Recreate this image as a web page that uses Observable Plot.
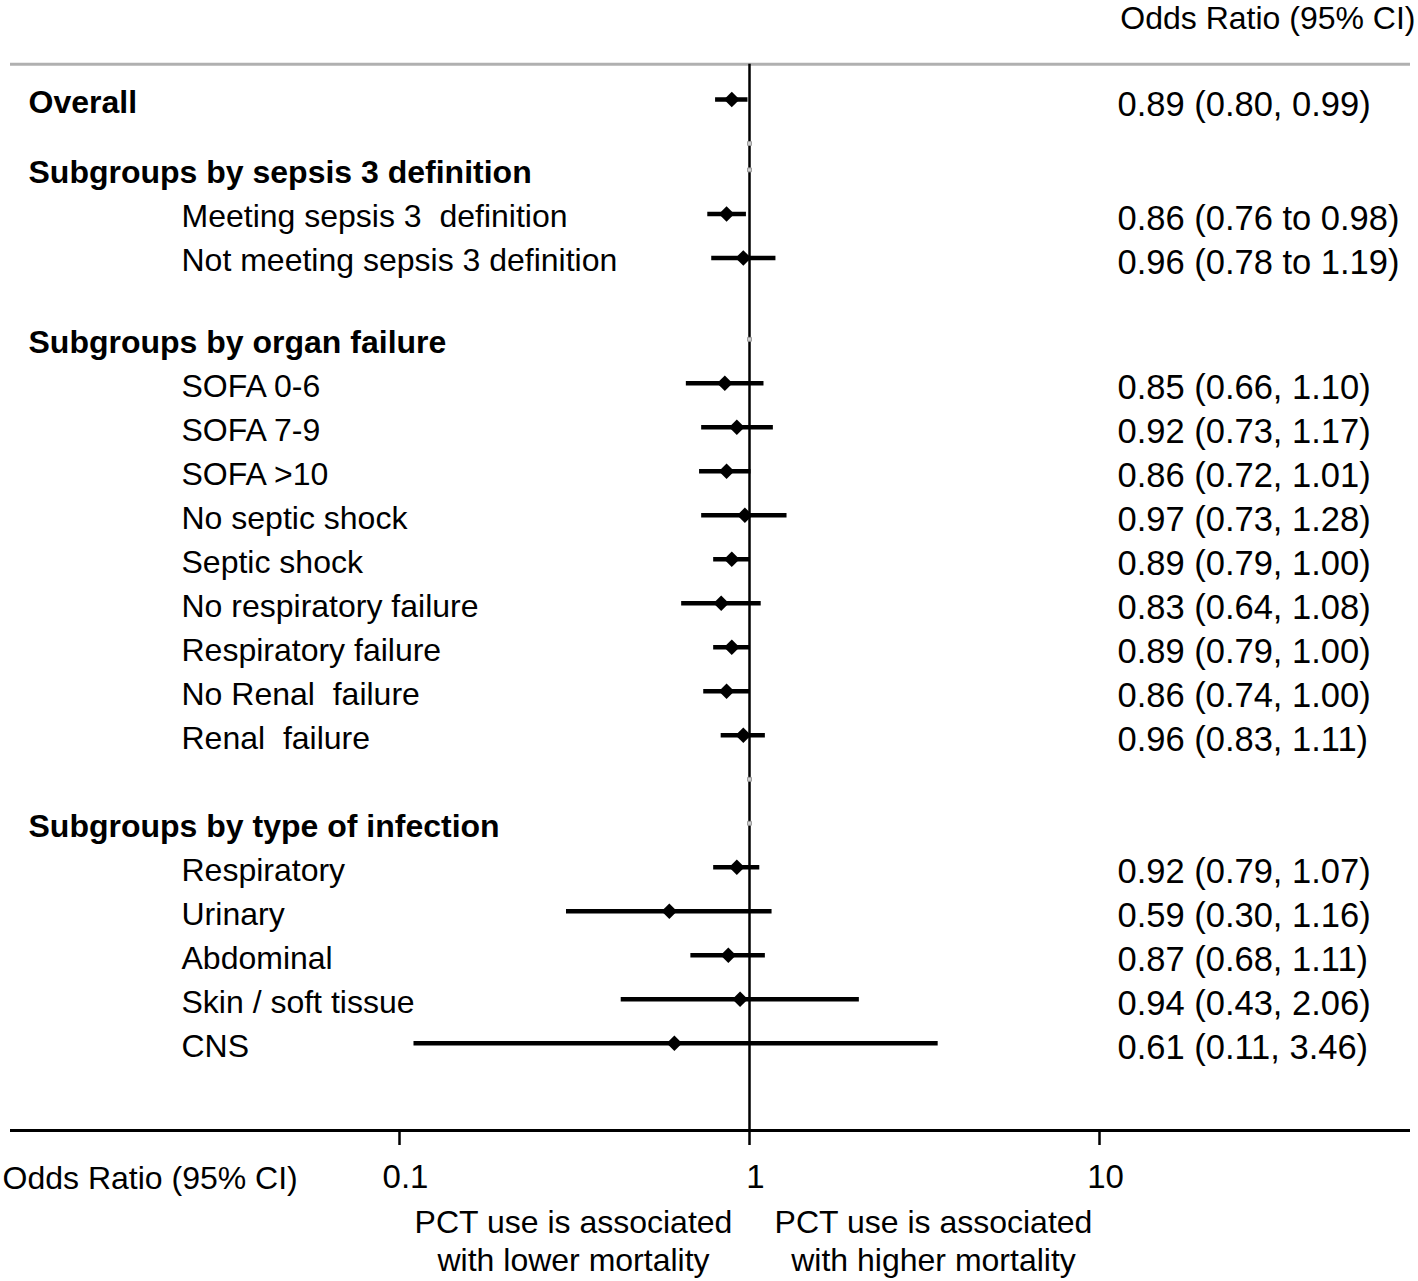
<!DOCTYPE html>
<html><head><meta charset="utf-8">
<script src="https://cdn.jsdelivr.net/npm/d3@7"></script>
<script src="https://cdn.jsdelivr.net/npm/@observablehq/plot@0.6"></script>
<style>html,body{margin:0;padding:0;background:#fff}svg{display:block}</style>
</head><body><div id="chart"></div>
<script>
// ---- data ----
const rowLabels = [
  "Overall", "",
  "Subgroups by sepsis 3 definition", "Meeting sepsis 3  definition", "Not meeting sepsis 3 definition",
  "Subgroups by organ failure", "SOFA 0-6", "SOFA 7-9", "SOFA >10", "No septic shock", "Septic shock",
  "No respiratory failure", "Respiratory failure", "No Renal  failure", "Renal  failure", "",
  "Subgroups by type of infection", "Respiratory", "Urinary", "Abdominal", "Skin / soft tissue", "CNS"
];
const rowKinds = [
  "total", "spacer",
  "header", "item", "item",
  "header", "item", "item", "item", "item", "item", "item", "item", "item", "item", "spacer",
  "header", "item", "item", "item", "item", "item"
];
const oddsRatio = [0.89, null, null, 0.86, 0.96, null, 0.85, 0.92, 0.86, 0.97, 0.89, 0.83, 0.89, 0.86, 0.96, null, null, 0.92, 0.59, 0.87, 0.94, 0.61];
const ciLow     = [0.80, null, null, 0.76, 0.78, null, 0.66, 0.73, 0.72, 0.73, 0.79, 0.64, 0.79, 0.74, 0.83, null, null, 0.79, 0.30, 0.68, 0.43, 0.11];
const ciHigh    = [0.99, null, null, 0.98, 1.19, null, 1.10, 1.17, 1.01, 1.28, 1.00, 1.08, 1.00, 1.00, 1.11, null, null, 1.07, 1.16, 1.11, 2.06, 3.46];
const ciJoiner  = [", ", null, null, " to ", " to ", null, ", ", ", ", ", ", ", ", ", ", ", ", ", ", ", ", ", ", null, null, ", ", ", ", ", ", ", ", ", "];
const xTicks = [0.1, 1, 10];
const axisTitle = "Odds Ratio (95% CI)";
const lowerNote = "PCT use is associated\nwith lower mortality";
const higherNote = "PCT use is associated\nwith higher mortality";

// ---- layout (row units) ----
const extraStep = {2: 0.6, 5: 1.85};
let pos = 0;
const rows = rowLabels.map((label, i) => {
  if (i > 0) pos += (extraStep[i] ?? 1);
  return {label, kind: rowKinds[i], or: oddsRatio[i], lo: ciLow[i], hi: ciHigh[i], joiner: ciJoiner[i], pos};
});
const items = rows.filter(d => d.or != null);
const markers = rows.filter(d => d.kind === "header" || d.kind === "spacer");
const TOP_RULE = -0.8, AXIS_RULE = 23.43;
const f2 = d => d.toFixed(2);

const chart = Plot.plot({
  width: 1418, height: 1281,
  marginLeft: 10, marginRight: 8, marginTop: 64, marginBottom: 151,
  style: {fontFamily: "'Liberation Sans', Arial, sans-serif", fontSize: "32px", color: "#000", background: "#fff"},
  x: {type: "log", domain: [0.1, 10], range: [399, 1099]},
  y: {domain: [0, 1], range: [99, 143], axis: null},
  marks: [
    Plot.ruleY([TOP_RULE], {stroke: "#b0b0b0", strokeWidth: 3}),
    Plot.ruleY([AXIS_RULE], {stroke: "#000", strokeWidth: 3}),
    Plot.ruleX([1], {y1: TOP_RULE, y2: AXIS_RULE, stroke: "#000", strokeWidth: 2.5}),
    Plot.dot(markers, {x: () => 1, y: "pos", symbol: "square", r: 2.2, fill: "#cfcfcf", stroke: "#9a9a9a", strokeWidth: 1}),
    Plot.ruleY(items, {y: "pos", x1: "lo", x2: "hi", stroke: "#000", strokeWidth: 4.5}),
    Plot.dot(items, {x: "or", y: "pos", symbol: "diamond2", r: 7, fill: "#000", stroke: null}),
    Plot.text(rows.filter(d => d.kind !== "item" && d.label), {
      y: "pos", text: "label", frameAnchor: "left", textAnchor: "start", dx: 18, dy: 3, fontWeight: "bold"
    }),
    Plot.text(rows.filter(d => d.kind === "item"), {
      y: "pos", text: "label", frameAnchor: "left", textAnchor: "start", dx: 171, dy: 3
    }),
    Plot.text(items, {
      y: "pos", text: d => `${f2(d.or)} (${f2(d.lo)}${d.joiner}${f2(d.hi)})`,
      frameAnchor: "right", textAnchor: "start", dx: -293, dy: 5, fontSize: 34.5
    }),
    Plot.axisX({ticks: xTicks, tickFormat: null, tickSize: 15, strokeWidth: 2.5, label: null, text: null}),
    Plot.text(xTicks, {x: d => d, text: d => String(d), frameAnchor: "bottom", dy: 57, dx: 6, fontSize: 33}),
    Plot.text([axisTitle], {frameAnchor: "top-right", textAnchor: "end", dx: 5, dy: -58}),
    Plot.text([axisTitle], {frameAnchor: "bottom-left", textAnchor: "start", dx: -8, dy: 58}),
    Plot.text([lowerNote], {x: () => 1, frameAnchor: "bottom", textAnchor: "middle", dx: -176, dy: 140, lineHeight: 1.16}),
    Plot.text([higherNote], {x: () => 1, frameAnchor: "bottom", textAnchor: "middle", dx: 184, dy: 140, lineHeight: 1.16})
  ]
});
document.getElementById("chart").appendChild(chart);
</script>
</body></html>
